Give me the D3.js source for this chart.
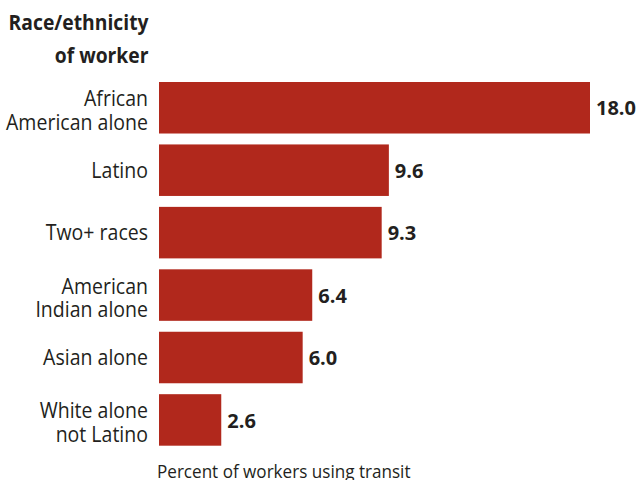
<!DOCTYPE html>
<html><head><meta charset="utf-8">
<script src="https://cdn.jsdelivr.net/npm/d3@7"></script>
<style>
body{margin:0;background:#fff;}
text{font-family:"Open Sans","Noto Sans",sans-serif;fill:#231f20;}
</style></head>
<body><svg id="c" width="639" height="480"></svg>
<script>
const categories = [["African","American alone"],["Latino"],["Two+ races"],["American","Indian alone"],["Asian alone"],["White alone","not Latino"]];
const values = [18.0, 9.6, 9.3, 6.4, 6.0, 2.6];
const valueLabels = ["18.0","9.6","9.3","6.4","6.0","2.6"];
const titleLines = ["Race/ethnicity","of worker"];
const xTitle = "Percent of workers using transit";

const svg = d3.select("#c");
const keys = categories.map(c=>c.join(" "));
const x = d3.scaleLinear().domain([0,18]).range([159,590]);
const y = d3.scaleBand().domain(keys).range([82,445.7]).paddingInner(0.175).paddingOuter(0);
const SX = 0.93;

function sText(px, py, str, size, weight, anchor, sx){
  return svg.append("text")
    .attr("transform", `translate(${px},${py}) scale(${sx},1)`)
    .attr("text-anchor", anchor||"start")
    .attr("font-size", size).attr("font-weight", weight||"normal")
    .text(str);
}

svg.selectAll("rect.bar").data(values).join("rect")
  .attr("class","bar")
  .attr("x", x(0)).attr("y",(d,i)=>y(keys[i]))
  .attr("width", d=>x(d)-x(0)).attr("height", y.bandwidth())
  .attr("fill","#b1281c");

values.forEach((d,i)=>{
  sText(x(d)+6, y(keys[i])+y.bandwidth()/2+7.6, valueLabels[i], 20, "bold", "start", 1);
});

categories.forEach((lines,i)=>{
  const cy = y(keys[i])+y.bandwidth()/2;
  if(lines.length===1){
    sText(148, cy+7.5, lines[0], 21, "normal", "end", SX);
  } else {
    lines.forEach((l,j)=>sText(148, cy-1.5+j*23.5, l, 21, "normal", "end", SX));
  }
});

titleLines.forEach((l,j)=>sText(148.5, 29.5+j*33, l, 21, "bold", "end", 0.92));

sText(157, 477.5, xTitle, 19, "normal", "start", 0.9);
</script></body></html>
